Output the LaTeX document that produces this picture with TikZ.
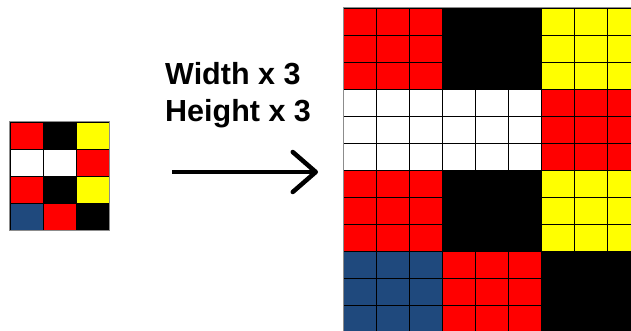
\documentclass[tikz,border=0pt]{standalone}
\usepackage{fontspec}
\setmainfont{Liberation Sans}
\usetikzlibrary{arrows.meta}

\definecolor{pixred}{RGB}{255,0,0}
\definecolor{pixyellow}{RGB}{255,255,0}
\definecolor{pixblue}{RGB}{31,73,125}

% column/row/colour of each source pixel
\newcommand{\pixels}{0/0/pixred, 1/0/black, 2/0/pixyellow,
  0/1/white, 1/1/white, 2/1/pixred,
  0/2/pixred, 1/2/black, 2/2/pixyellow,
  0/3/pixblue, 1/3/pixred, 2/3/black}

\begin{document}
\begin{tikzpicture}[x=1pt, y=-1pt,
    pix/.style={draw=black, line width=0.8pt},
    frame/.style={draw=black!45, line width=1pt},
    caption/.style={anchor=base west, inner sep=0pt, font=\bfseries\fontsize{30.5}{36}\selectfont}]
  \useasboundingbox (0,0) rectangle (631,331);

  % small picture
  \foreach \x/\y/\c in \pixels
    \draw[pix, fill=\c] (10+33*\x, 122+27*\y) rectangle ++(33,27);
  \draw[frame] (9.5,121.5) rectangle (109.5,230.5);

  % scaled picture, every pixel becomes 3x3
  \foreach \x/\y/\c in \pixels
    \foreach \u in {0,1,2}
      \foreach \v in {0,1,2}
        \draw[pix, fill=\c] (343.5+99*\x+33*\u, 8.5+81*\y+27*\v) rectangle ++(33,27);
  \draw[frame] (343,8) -- (343,340) (343,8) -- (640,8);

  \node[caption] (wtext) at (165,84.5) {Width x 3};
  \node[caption] (htext) at (165,121.5) {Height x 3};

  \coordinate (from) at (172,172);
  \coordinate (to) at (318,172);
  \draw[line width=4.5pt, -{Straight Barb[length=23pt, width=40pt, round]}] (from) -- (to);
\end{tikzpicture}
\end{document}
